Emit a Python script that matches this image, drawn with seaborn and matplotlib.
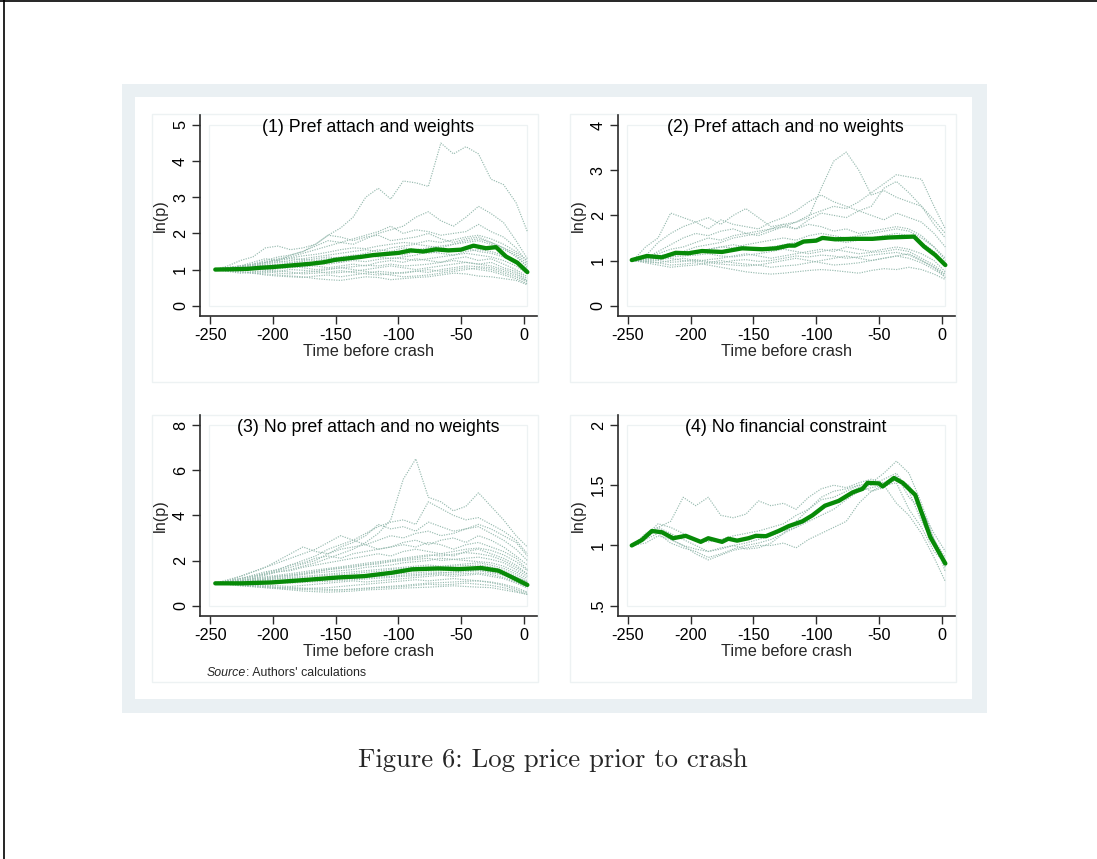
import numpy as np
import pandas as pd
import matplotlib
matplotlib.use("Agg")
import matplotlib.pyplot as plt
import seaborn as sns
from matplotlib.patches import Rectangle
from matplotlib.lines import Line2D

# ---------------- data ----------------
T = [-246, -236, -226, -216, -206, -196, -186, -176, -166, -156, -146, -136, -126,
     -116, -106, -96, -86, -76, -66, -56, -46, -36, -26, -16, -6, 3]

titles = ["(1) Pref attach and weights", "(2) Pref attach and no weights",
          "(3) No pref attach and no weights", "(4) No financial constraint"]

p1_sims = [
    [1.0, 1.05, 1.1, 1.2, 1.3, 1.25, 1.4, 1.5, 1.7, 1.95, 2.15, 2.45, 3.0, 3.25, 2.95, 3.45, 3.4, 3.3, 4.5, 4.2, 4.4, 4.2, 3.5, 3.35, 2.85, 2.05],
    [1.0, 1.0, 1.05, 1.1, 1.2, 1.3, 1.35, 1.45, 1.55, 1.65, 1.75, 1.7, 1.85, 2.0, 2.1, 2.2, 2.45, 2.6, 2.35, 2.2, 2.45, 2.75, 2.55, 2.3, 1.8, 1.3],
    [1.0, 1.05, 1.1, 1.15, 1.25, 1.35, 1.4, 1.5, 1.65, 1.8, 1.75, 1.85, 1.95, 2.05, 2.2, 2.0, 2.1, 2.05, 1.95, 2.0, 2.05, 2.25, 2.05, 1.9, 1.6, 1.2],
    [1.0, 1.1, 1.25, 1.35, 1.6, 1.65, 1.55, 1.6, 1.7, 1.95, 1.9, 1.8, 1.9, 1.95, 1.8, 1.85, 1.9, 2.0, 1.85, 1.75, 1.85, 1.9, 1.75, 1.6, 1.35, 1.1],
    [1.0, 0.98, 0.95, 0.9, 0.88, 0.85, 0.82, 0.8, 0.75, 0.72, 0.7, 0.75, 0.8, 0.78, 0.72, 0.75, 0.78, 0.8, 0.85, 0.9, 0.88, 0.82, 0.8, 0.75, 0.7, 0.58],
    [1.0, 1.05, 1.1, 1.08, 1.15, 1.2, 1.25, 1.3, 1.35, 1.4, 1.45, 1.5, 1.55, 1.5, 1.6, 1.65, 1.7, 1.65, 1.6, 1.7, 1.75, 1.8, 1.7, 1.55, 1.4, 1.05],
    [1.0, 0.95, 0.9, 0.92, 0.95, 0.9, 0.88, 0.92, 0.95, 1.0, 1.05, 1.0, 0.95, 0.9, 0.85, 0.8, 0.82, 0.85, 0.9, 0.95, 1.0, 1.05, 1.0, 0.9, 0.8, 0.65],
    [1.0, 1.02, 1.05, 1.1, 1.12, 1.15, 1.1, 1.15, 1.2, 1.25, 1.2, 1.3, 1.35, 1.4, 1.45, 1.4, 1.5, 1.45, 1.5, 1.55, 1.6, 1.5, 1.45, 1.35, 1.2, 0.95],
    [1.0, 1.0, 1.02, 1.0, 0.98, 1.02, 1.05, 1.08, 1.1, 1.05, 1.1, 1.15, 1.1, 1.2, 1.25, 1.2, 1.3, 1.25, 1.2, 1.3, 1.35, 1.25, 1.3, 1.15, 1.0, 0.8],
    [1.0, 0.98, 1.0, 1.05, 1.0, 0.95, 1.0, 0.98, 0.95, 0.9, 0.92, 0.95, 1.0, 1.05, 1.1, 1.05, 1.0, 1.05, 1.1, 1.15, 1.2, 1.15, 1.1, 1.0, 0.9, 0.7],
    [1.0, 1.05, 1.1, 1.15, 1.2, 1.25, 1.3, 1.28, 1.25, 1.3, 1.35, 1.4, 1.38, 1.35, 1.3, 1.35, 1.4, 1.5, 1.45, 1.4, 1.5, 1.55, 1.5, 1.4, 1.25, 1.0],
    [1.0, 0.97, 0.93, 0.9, 0.85, 0.82, 0.8, 0.78, 0.82, 0.85, 0.8, 0.85, 0.9, 0.95, 0.92, 0.9, 0.95, 1.0, 0.95, 1.0, 1.05, 1.0, 0.95, 0.85, 0.75, 0.6],
    [1.0, 1.03, 1.08, 1.12, 1.18, 1.22, 1.2, 1.25, 1.3, 1.35, 1.3, 1.38, 1.45, 1.55, 1.5, 1.6, 1.55, 1.6, 1.65, 1.7, 1.8, 1.85, 1.75, 1.6, 1.45, 1.15],
    [1.0, 1.0, 0.98, 1.02, 1.05, 1.08, 1.1, 1.05, 1.0, 1.02, 1.05, 1.08, 1.12, 1.1, 1.15, 1.1, 1.12, 1.15, 1.2, 1.25, 1.2, 1.15, 1.2, 1.05, 0.95, 0.75],
    [1.0, 1.02, 1.06, 1.05, 1.1, 1.14, 1.18, 1.22, 1.18, 1.15, 1.2, 1.25, 1.22, 1.28, 1.32, 1.3, 1.25, 1.3, 1.35, 1.4, 1.45, 1.4, 1.35, 1.25, 1.1, 0.88],
    [1.0, 0.96, 0.98, 0.95, 0.92, 0.96, 0.93, 0.88, 0.9, 0.93, 0.97, 0.92, 0.88, 0.85, 0.88, 0.92, 0.96, 0.92, 1.0, 1.05, 1.1, 1.08, 1.05, 0.95, 0.85, 0.68],
    [1.0, 1.04, 1.08, 1.14, 1.2, 1.28, 1.32, 1.38, 1.42, 1.48, 1.55, 1.6, 1.58, 1.65, 1.7, 1.75, 1.72, 1.8, 1.75, 1.82, 1.9, 1.95, 1.85, 1.7, 1.5, 1.25],
]
p1_mean_t = [-246, -230, -220, -210, -200, -190, -180, -170, -160, -150, -140, -130, -120,
             -110, -100, -90, -80, -70, -60, -50, -40, -30, -22, -14, -5, 3]
p1_mean_v = [1.00, 1.01, 1.02, 1.05, 1.07, 1.10, 1.13, 1.16, 1.20, 1.27, 1.31, 1.35, 1.40,
             1.43, 1.46, 1.53, 1.50, 1.56, 1.53, 1.55, 1.66, 1.59, 1.62, 1.36, 1.19, 0.93]

p2_sims = [
    [1.0, 1.05, 1.1, 1.15, 1.2, 1.3, 1.35, 1.4, 1.5, 1.55, 1.6, 1.7, 1.75, 1.85, 1.95, 2.6, 3.2, 3.4, 3.0, 2.45, 2.55, 2.4, 2.3, 2.2, 1.9, 1.6],
    [1.0, 1.05, 1.15, 1.25, 1.3, 1.4, 1.5, 1.45, 1.55, 1.6, 1.65, 1.7, 1.8, 1.85, 2.0, 2.1, 2.2, 2.15, 2.3, 2.5, 2.7, 2.9, 2.85, 2.8, 2.2, 1.7],
    [1.0, 1.3, 1.5, 2.05, 1.95, 1.85, 1.95, 1.8, 2.0, 2.15, 1.95, 1.75, 1.8, 1.7, 1.9, 2.05, 2.0, 1.95, 2.1, 2.2, 2.6, 2.75, 2.5, 2.2, 1.8, 1.5],
    [1.0, 1.1, 1.4, 1.6, 1.75, 1.85, 1.7, 1.9, 1.8, 1.75, 1.7, 1.85, 1.95, 2.1, 2.3, 2.45, 2.3, 2.2, 2.1, 2.0, 1.9, 2.05, 1.95, 1.85, 1.6, 1.3],
    [1.0, 1.05, 1.2, 1.35, 1.5, 1.6, 1.55, 1.65, 1.7, 1.6, 1.55, 1.65, 1.75, 1.7, 1.8, 1.75, 1.65, 1.7, 1.6, 1.65, 1.7, 1.75, 1.7, 1.55, 1.3, 1.05],
    [1.0, 0.98, 0.95, 0.9, 0.92, 0.95, 0.9, 0.85, 0.8, 0.75, 0.72, 0.7, 0.72, 0.75, 0.78, 0.8, 0.78, 0.75, 0.72, 0.78, 0.82, 0.8, 0.85, 0.8, 0.7, 0.58],
    [1.0, 1.02, 1.05, 1.1, 1.15, 1.2, 1.25, 1.3, 1.28, 1.35, 1.4, 1.45, 1.5, 1.45, 1.55, 1.6, 1.55, 1.5, 1.55, 1.6, 1.65, 1.7, 1.65, 1.5, 1.3, 1.0],
    [1.0, 0.97, 0.95, 1.0, 1.05, 1.0, 0.95, 0.92, 0.9, 0.88, 0.9, 0.95, 1.0, 1.05, 1.0, 0.95, 0.9, 0.92, 0.95, 1.0, 1.05, 1.1, 1.05, 0.95, 0.8, 0.65],
    [1.0, 1.03, 1.05, 1.08, 1.1, 1.12, 1.15, 1.1, 1.08, 1.12, 1.15, 1.2, 1.25, 1.2, 1.15, 1.2, 1.25, 1.2, 1.15, 1.18, 1.2, 1.25, 1.2, 1.05, 0.9, 0.7],
    [1.0, 0.95, 0.9, 0.85, 0.88, 0.9, 0.95, 1.0, 0.95, 0.92, 0.9, 0.85, 0.88, 0.9, 0.95, 1.0, 1.05, 1.1, 1.05, 1.0, 1.05, 1.1, 1.15, 1.0, 0.85, 0.62],
    [1.0, 1.05, 1.1, 1.15, 1.2, 1.18, 1.25, 1.3, 1.35, 1.3, 1.25, 1.3, 1.35, 1.4, 1.45, 1.5, 1.45, 1.4, 1.45, 1.5, 1.55, 1.6, 1.55, 1.4, 1.2, 0.9],
    [1.0, 1.0, 1.02, 1.05, 1.0, 0.98, 1.02, 1.05, 1.1, 1.15, 1.1, 1.05, 1.1, 1.15, 1.2, 1.25, 1.2, 1.3, 1.25, 1.2, 1.25, 1.3, 1.25, 1.15, 1.0, 0.75],
    [1.0, 0.98, 1.0, 0.96, 0.98, 1.02, 0.98, 0.95, 1.0, 1.02, 0.98, 1.0, 1.05, 1.1, 1.08, 1.12, 1.1, 1.05, 1.08, 1.12, 1.15, 1.18, 1.12, 1.0, 0.85, 0.68],
]
p2_mean_t = [-247, -235, -223, -212, -202, -191, -175, -159, -143, -132, -122, -117, -110,
             -100, -95, -85, -69, -55, -42, -22, -14, -5, 3]
p2_mean_v = [1.01, 1.10, 1.07, 1.17, 1.16, 1.21, 1.19, 1.27, 1.25, 1.27, 1.33, 1.33, 1.42,
             1.44, 1.50, 1.47, 1.48, 1.48, 1.51, 1.53, 1.31, 1.12, 0.90]

p3_sims = [
    [1.0, 1.05, 1.1, 1.2, 1.35, 1.5, 1.6, 1.75, 1.9, 2.1, 2.3, 2.5, 2.8, 3.2, 3.8, 5.6, 6.5, 4.8, 4.6, 4.2, 4.4, 5.0, 4.4, 3.8, 3.1, 2.6],
    [1.0, 1.1, 1.2, 1.3, 1.45, 1.6, 1.8, 2.0, 2.2, 2.5, 2.7, 2.9, 3.2, 3.5, 3.7, 3.8, 3.6, 4.6, 4.3, 4.0, 3.8, 3.9, 3.6, 3.3, 2.9, 2.3],
    [1.0, 1.05, 1.15, 1.25, 1.4, 1.55, 1.7, 1.85, 2.0, 2.3, 2.6, 2.8, 3.1, 3.6, 3.4, 3.5, 3.3, 3.7, 3.5, 3.3, 3.4, 3.6, 3.4, 3.1, 2.8, 2.2],
    [1.0, 1.1, 1.3, 1.5, 1.7, 1.9, 2.1, 2.3, 2.5, 2.8, 3.1, 2.9, 2.7, 2.9, 3.1, 3.0, 3.2, 3.3, 3.1, 3.2, 3.4, 3.5, 3.2, 2.9, 2.5, 2.0],
    [1.0, 1.15, 1.3, 1.5, 1.7, 2.0, 2.3, 2.6, 2.4, 2.3, 2.5, 2.6, 2.7, 2.5, 2.6, 2.8, 2.9, 2.7, 2.9, 3.0, 2.8, 3.1, 2.9, 2.6, 2.2, 1.8],
    [1.0, 1.05, 1.2, 1.35, 1.5, 1.6, 1.8, 1.9, 2.1, 2.2, 2.1, 2.3, 2.4, 2.5, 2.6, 2.7, 2.6, 2.8, 2.7, 2.5, 2.7, 2.8, 2.6, 2.4, 2.1, 1.6],
    [1.0, 1.1, 1.2, 1.3, 1.4, 1.5, 1.55, 1.7, 1.8, 1.9, 2.0, 2.1, 2.2, 2.3, 2.2, 2.4, 2.5, 2.4, 2.3, 2.2, 2.4, 2.5, 2.3, 2.1, 1.8, 1.4],
    [1.0, 0.95, 0.9, 0.85, 0.8, 0.75, 0.7, 0.65, 0.62, 0.6, 0.62, 0.65, 0.7, 0.72, 0.75, 0.78, 0.8, 0.82, 0.85, 0.88, 0.85, 0.82, 0.8, 0.7, 0.6, 0.5],
    [1.0, 1.05, 1.1, 1.15, 1.2, 1.3, 1.35, 1.4, 1.5, 1.6, 1.65, 1.7, 1.8, 1.85, 1.95, 2.0, 2.05, 2.1, 2.0, 2.05, 2.1, 2.15, 2.05, 1.9, 1.6, 1.3],
    [1.0, 0.98, 0.95, 0.92, 0.9, 0.88, 0.85, 0.9, 0.95, 1.0, 1.05, 1.1, 1.05, 1.1, 1.15, 1.2, 1.25, 1.3, 1.35, 1.3, 1.35, 1.4, 1.3, 1.2, 1.0, 0.8],
    [1.0, 1.02, 1.05, 1.1, 1.15, 1.2, 1.25, 1.3, 1.35, 1.4, 1.45, 1.5, 1.55, 1.6, 1.65, 1.7, 1.75, 1.8, 1.75, 1.8, 1.85, 1.9, 1.8, 1.65, 1.4, 1.1],
    [1.0, 0.97, 0.93, 0.9, 0.85, 0.8, 0.78, 0.75, 0.78, 0.8, 0.85, 0.9, 0.95, 1.0, 1.05, 1.1, 1.15, 1.1, 1.15, 1.2, 1.15, 1.1, 1.05, 0.95, 0.8, 0.6],
    [1.0, 1.0, 1.02, 1.05, 1.08, 1.1, 1.12, 1.15, 1.2, 1.22, 1.25, 1.3, 1.35, 1.4, 1.45, 1.5, 1.55, 1.6, 1.55, 1.6, 1.65, 1.6, 1.55, 1.45, 1.25, 1.0],
    [1.0, 1.03, 1.08, 1.12, 1.18, 1.25, 1.3, 1.38, 1.45, 1.5, 1.55, 1.6, 1.7, 1.75, 1.8, 1.9, 1.95, 2.0, 2.1, 2.05, 2.0, 1.95, 1.9, 1.75, 1.5, 1.2],
    [1.0, 0.96, 0.92, 0.88, 0.85, 0.82, 0.8, 0.78, 0.75, 0.72, 0.7, 0.72, 0.75, 0.8, 0.82, 0.85, 0.9, 0.95, 0.92, 0.95, 1.0, 0.95, 0.9, 0.8, 0.65, 0.5],
    [1.0, 1.01, 1.03, 1.05, 1.07, 1.1, 1.12, 1.18, 1.22, 1.25, 1.3, 1.28, 1.32, 1.35, 1.4, 1.42, 1.45, 1.5, 1.48, 1.45, 1.5, 1.55, 1.45, 1.35, 1.15, 0.9],
    [1.0, 1.04, 1.06, 1.1, 1.14, 1.18, 1.2, 1.25, 1.3, 1.35, 1.38, 1.42, 1.48, 1.52, 1.6, 1.65, 1.7, 1.72, 1.7, 1.75, 1.78, 1.8, 1.72, 1.55, 1.3, 1.05],
    [1.0, 1.06, 1.12, 1.2, 1.28, 1.35, 1.42, 1.5, 1.58, 1.65, 1.72, 1.8, 1.88, 1.95, 2.02, 2.1, 2.18, 2.25, 2.2, 2.28, 2.35, 2.3, 2.2, 2.0, 1.7, 1.4],
    [1.0, 0.99, 0.97, 0.98, 1.0, 1.02, 1.0, 1.03, 1.06, 1.08, 1.12, 1.15, 1.18, 1.22, 1.25, 1.3, 1.33, 1.38, 1.4, 1.38, 1.42, 1.45, 1.38, 1.25, 1.05, 0.78],
    [1.0, 0.94, 0.88, 0.84, 0.8, 0.77, 0.74, 0.72, 0.7, 0.68, 0.7, 0.74, 0.78, 0.82, 0.86, 0.9, 0.95, 1.0, 1.02, 1.05, 1.08, 1.1, 1.02, 0.9, 0.72, 0.56],
    [1.0, 1.05, 1.1, 1.18, 1.24, 1.3, 1.36, 1.44, 1.52, 1.6, 1.68, 1.75, 1.82, 1.9, 1.98, 2.05, 2.12, 2.2, 2.3, 2.4, 2.5, 2.55, 2.45, 2.25, 1.95, 1.55],
    [1.0, 1.0, 0.99, 1.01, 1.03, 1.05, 1.08, 1.1, 1.12, 1.15, 1.18, 1.2, 1.24, 1.28, 1.3, 1.35, 1.38, 1.42, 1.45, 1.5, 1.55, 1.58, 1.5, 1.38, 1.18, 0.95],
]
p3_mean_t = [-246, -225, -201, -174, -148, -127, -105, -89, -68, -52, -34, -20, -10, 3]
p3_mean_v = [0.99, 0.99, 1.03, 1.14, 1.25, 1.31, 1.46, 1.61, 1.65, 1.62, 1.67, 1.55, 1.28, 0.92]

p4_sims = [
    [1.0, 1.1, 1.15, 1.2, 1.4, 1.33, 1.4, 1.25, 1.23, 1.26, 1.37, 1.33, 1.35, 1.3, 1.4, 1.47, 1.5, 1.48, 1.52, 1.55, 1.52, 1.58, 1.4, 1.3, 1.1, 0.95],
    [1.0, 1.05, 1.1, 1.02, 0.98, 0.95, 0.9, 0.93, 0.97, 1.0, 1.02, 1.05, 1.1, 1.2, 1.3, 1.4, 1.45, 1.47, 1.5, 1.52, 1.6, 1.7, 1.6, 1.35, 1.05, 0.78],
    [1.0, 1.08, 1.12, 1.05, 1.0, 0.93, 0.88, 0.92, 0.96, 0.98, 1.0, 1.0, 1.02, 0.98, 1.05, 1.1, 1.15, 1.2, 1.35, 1.45, 1.5, 1.35, 1.25, 1.1, 0.9, 0.7],
    [1.0, 1.05, 1.15, 1.1, 1.05, 1.0, 0.95, 0.97, 1.0, 0.97, 0.98, 1.02, 1.1, 1.15, 1.22, 1.3, 1.35, 1.42, 1.48, 1.5, 1.55, 1.6, 1.45, 1.2, 1.0, 0.82],
    [1.0, 1.08, 1.18, 1.15, 1.1, 1.05, 1.03, 1.05, 1.08, 1.1, 1.12, 1.15, 1.18, 1.25, 1.3, 1.38, 1.4, 1.45, 1.5, 1.45, 1.48, 1.55, 1.5, 1.3, 1.05, 0.9],
    [1.0, 1.02, 1.08, 1.05, 1.0, 0.97, 0.95, 0.98, 1.0, 1.02, 1.05, 1.08, 1.12, 1.15, 1.2, 1.25, 1.3, 1.38, 1.45, 1.48, 1.5, 1.52, 1.3, 1.15, 0.95, 0.85],
]
p4_mean_t = [-247, -239, -231, -223, -214, -204, -192, -186, -175, -170, -163, -154, -148, -140, -130,
             -122, -111, -103, -93, -82, -71, -63, -59, -50, -47, -38, -31, -21, -9, 3]
p4_mean_v = [1.00, 1.045, 1.12, 1.11, 1.06, 1.08, 1.03, 1.06, 1.03, 1.056, 1.04, 1.06, 1.08, 1.077, 1.12,
             1.16, 1.20, 1.25, 1.33, 1.37, 1.44, 1.47, 1.52, 1.515, 1.49, 1.56, 1.52, 1.42, 1.07, 0.85]

ytick_vals = [[0, 1, 2, 3, 4, 5], [0, 1, 2, 3, 4], [0, 2, 4, 6, 8], [0.5, 1, 1.5, 2]]
ytick_labs = [["0", "1", "2", "3", "4", "5"], ["0", "1", "2", "3", "4"],
              ["0", "2", "4", "6", "8"], [".5", "1", "1.5", "2"]]
xtick_vals = [-250, -200, -150, -100, -50, 0]
xtick_labs = ["-250", "-200", "-150", "-100", "-50", "0"]

# ---------------- style ----------------
sns.set_style("ticks")
plt.rcParams["font.family"] = ["Liberation Sans", "DejaVu Sans"]
plt.rcParams["axes.unicode_minus"] = False

W, H = 1097, 859
fig = plt.figure(figsize=(W / 100, H / 100), dpi=100)
fig.patch.set_facecolor("white")

def fx(px):
    return px / W

def fy(py):
    return 1 - py / H

def frect(x0, y0, x1, y1, **kw):
    r = Rectangle((fx(x0), fy(y1)), fx(x1) - fx(x0), (y1 - y0) / H,
                  transform=fig.transFigure, **kw)
    fig.add_artist(r)
    return r

# page border lines
fig.add_artist(Line2D([fx(3.5), fx(3.5)], [0, 1], color="black", lw=1.2, transform=fig.transFigure))
fig.add_artist(Line2D([0, 1], [fy(0.6), fy(0.6)], color="black", lw=1.2, transform=fig.transFigure))

# graph region backgrounds
frect(122, 84, 987, 713, facecolor="#EAF0F3", edgecolor="none", zorder=-3)
frect(135, 97, 972, 699, facecolor="white", edgecolor="none", zorder=-2)
for (x0, y0, x1, y1) in [(152, 114, 538, 382), (570, 114, 956, 382),
                         (152, 415, 538, 682), (570, 415, 956, 682)]:
    frect(x0, y0, x1, y1, facecolor="none", edgecolor="#EDF2F3", lw=1.0, zorder=-1)

axes_px = [(200, 115, 537, 316), (617.7, 115, 955, 316),
           (200, 415, 537, 616), (617.7, 415, 955, 616)]

sims_all = [p1_sims, p2_sims, p3_sims, p4_sims]
means_all = [(p1_mean_t, p1_mean_v), (p2_mean_t, p2_mean_v),
             (p3_mean_t, p3_mean_v), (p4_mean_t, p4_mean_v)]

dot_color = "#98BBB0"
green = "#078A07"
spine_col = "#2b2b2b"

for i in range(4):
    x0, y0, x1, y1 = axes_px[i]
    ax = fig.add_axes([fx(x0), fy(y1), fx(x1) - fx(x0), (y1 - y0) / H])
    ax.set_facecolor("none")

    rows = []
    for k, s in enumerate(sims_all[i]):
        for t, v in zip(T, s):
            rows.append((k, t, v))
    df = pd.DataFrame(rows, columns=["sim", "t", "v"])
    sns.lineplot(data=df, x="t", y="v", units="sim", estimator=None, ax=ax,
                 color=dot_color, lw=0.85, linestyle=(0, (1, 1.1)), legend=False)
    mt, mv = means_all[i]
    dm = pd.DataFrame({"t": mt, "v": mv})
    sns.lineplot(data=dm, x="t", y="v", ax=ax, color=green, lw=3.1,
                 estimator=None, legend=False, solid_capstyle="round", zorder=5)

    yv = ytick_vals[i]
    rng = yv[-1] - yv[0]
    ax.set_ylim(yv[0] - 0.057 * rng, yv[-1] + 0.0553 * rng)
    ax.set_xlim(-258.2, 10.7)

    # plot region faint border
    ax.add_patch(Rectangle((-250.8, yv[0]), 253.3, rng, fill=False,
                           edgecolor="#EDF2F3", lw=0.9, zorder=0))

    ax.set_xticks(xtick_vals)
    ax.set_xticklabels(xtick_labs, fontsize=11.7)
    ax.set_yticks(yv)
    ax.set_yticklabels(ytick_labs[i], fontsize=11.7, rotation=90, va="center")
    ax.tick_params(axis="both", direction="out", length=6, width=1.0,
                   color=spine_col, labelcolor="black")
    ax.tick_params(axis="x", pad=2.5)
    ax.tick_params(axis="y", pad=2.6)
    for sp in ["top", "right"]:
        ax.spines[sp].set_visible(False)
    for sp in ["left", "bottom"]:
        ax.spines[sp].set_color(spine_col)
        ax.spines[sp].set_linewidth(1.2)

    ax.set_xlabel("Time before crash", fontsize=11.7)
    ax.set_ylabel("ln(p)", fontsize=11.7)
    ax.xaxis.set_label_coords(0.5, -0.138)
    ax.yaxis.set_label_coords(-0.094, 0.5)
    ax.xaxis.label.set_va("top")
    ax.yaxis.label.set_va("bottom")

    ax.text(0.4985, 0.917, titles[i], transform=ax.transAxes, ha="center",
            va="baseline", fontsize=12.8, color="black", zorder=6)

# source note
r = fig.canvas.get_renderer()
t1 = fig.text(fx(207), fy(676), "Source", fontsize=8.9, style="italic", va="baseline")
bb = t1.get_window_extent(renderer=r)
fig.text(bb.x1 / W, fy(676), ": Authors' calculations", fontsize=8.9, va="baseline")

# caption
fig.text(fx(553), fy(767), "Figure 6: Log price prior to crash", fontsize=19.2,
         family="cmr10", ha="center", va="baseline")

fig.savefig("out.png", dpi=100)
